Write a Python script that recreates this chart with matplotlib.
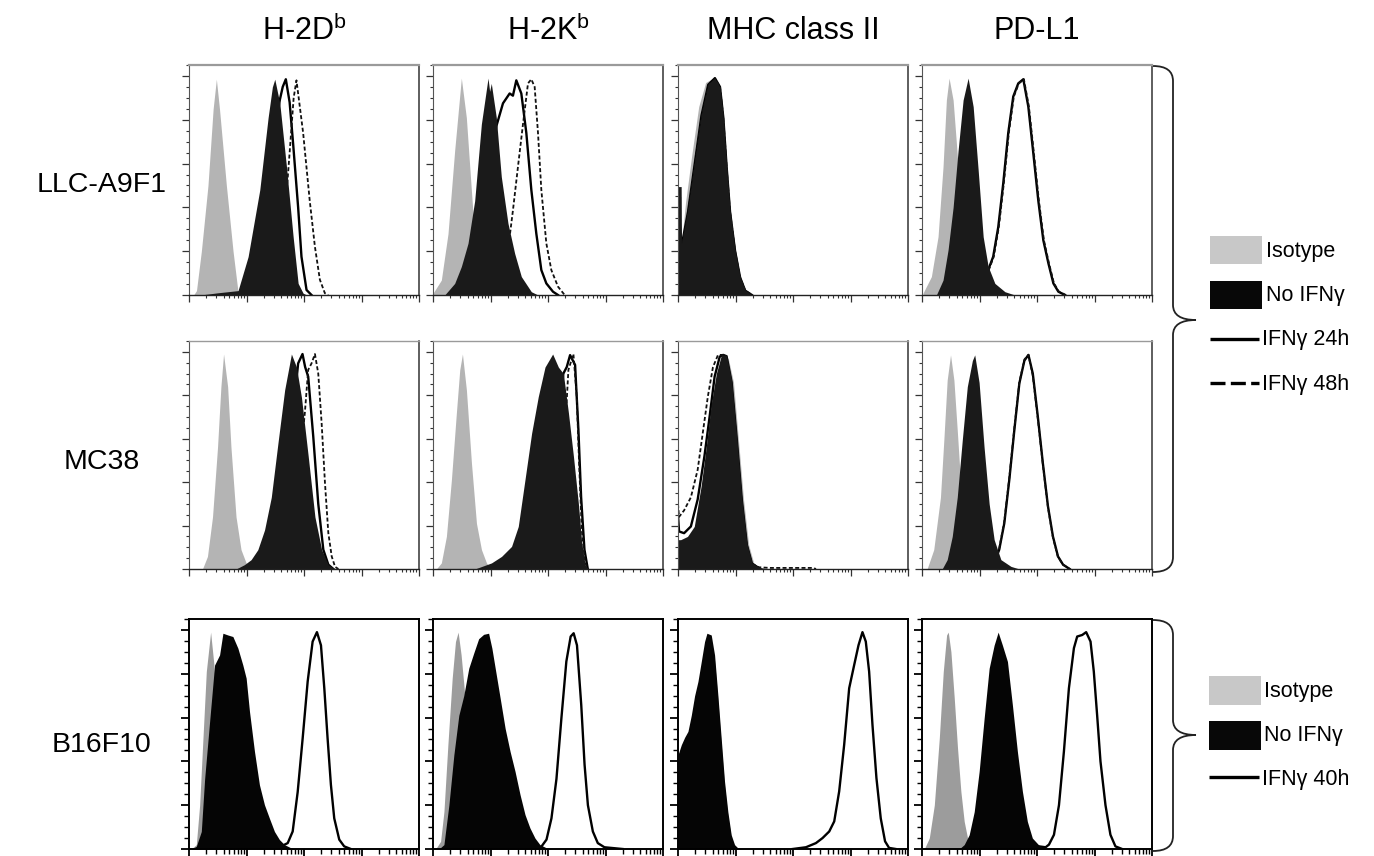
import numpy as np
import matplotlib
matplotlib.use("Agg")
import matplotlib.pyplot as plt
from matplotlib.path import Path
from matplotlib.patches import PathPatch, Rectangle
from matplotlib.ticker import LogLocator, MultipleLocator, NullFormatter

plt.rcParams['font.family'] = ['Liberation Sans', 'DejaVu Sans']
plt.rcParams['mathtext.fontset'] = 'custom'
plt.rcParams['mathtext.rm'] = 'Liberation Sans'
plt.rcParams['mathtext.it'] = 'Liberation Sans'

# ---------------- labels ----------------
col_titles = [r"H-2D$^{\mathrm{b}}$", r"H-2K$^{\mathrm{b}}$", "MHC class II", "PD-L1"]
row_labels = ["LLC-A9F1", "MC38", "B16F10"]
legend1_labels = ["Isotype", "No IFN\u03b3", "IFN\u03b3 24h", "IFN\u03b3 48h"]
legend2_labels = ["Isotype", "No IFN\u03b3", "IFN\u03b3 40h"]

# ---------------- data: x = log10 fluorescence, y = % of max ----------------
# LLC-A9F1 / H-2Db
llc_h2db_iso_x = [1.08, 1.13, 1.215, 1.33, 1.42, 1.476, 1.53, 1.65, 1.766, 1.85, 1.92]
llc_h2db_iso_y = [0, 2, 20, 50, 85, 98.5, 85, 50, 20, 2, 0]
llc_h2db_no_x = [1.20, 1.50, 1.853, 2.028, 2.231, 2.376, 2.45, 2.492, 2.579, 2.695, 2.811, 2.898, 2.985, 3.05]
llc_h2db_no_y = [0, 1, 2, 17.5, 48, 81, 95, 98.5, 87.5, 58.6, 26.6, 5.3, 0.8, 0]
llc_h2db_24_x = [2.05, 2.173, 2.405, 2.579, 2.63, 2.684, 2.75, 2.811, 2.898, 2.956, 3.044, 3.131]
llc_h2db_24_y = [0, 20.5, 58.6, 89, 95, 98.5, 88, 69, 40, 17.5, 2.3, 0]
llc_h2db_48_x = [2.35, 2.55, 2.695, 2.753, 2.82, 2.869, 2.985, 3.10, 3.19, 3.276, 3.363, 3.42]
llc_h2db_48_y = [0, 15, 46, 66, 90, 98, 74, 43, 22, 7, 0.8, 0]

# LLC-A9F1 / H-2Kb
llc_h2kb_iso_x = [1.0, 1.145, 1.261, 1.377, 1.493, 1.58, 1.667, 1.725, 1.812, 1.899]
llc_h2kb_iso_y = [0.8, 6.8, 28, 66, 99, 81, 48, 26.6, 7, 0]
llc_h2kb_no_x = [1.203, 1.377, 1.493, 1.609, 1.725, 1.841, 1.957, 1.985, 2.014, 2.101, 2.188, 2.304, 2.42, 2.536, 2.71, 2.826]
llc_h2kb_no_y = [0, 5.3, 13, 23.6, 43, 78, 99, 93, 96.6, 81, 54, 32.7, 19, 8.4, 1.5, 0]
llc_h2kb_24_x = [1.725, 1.899, 2.101, 2.217, 2.333, 2.39, 2.449, 2.536, 2.623, 2.71, 2.797, 2.884, 2.971, 3.087, 3.174]
llc_h2kb_24_y = [10, 35, 77, 87.5, 92, 91, 98, 92, 74, 48, 28, 11.4, 5.3, 1.5, 0]
llc_h2kb_48_x = [2.0, 2.17, 2.304, 2.391, 2.478, 2.565, 2.652, 2.71, 2.768, 2.826, 2.884, 2.971, 3.058, 3.174, 3.29]
llc_h2kb_48_y = [1, 8, 20.5, 38.8, 58.6, 78, 96.6, 98.5, 95, 74, 48, 23.6, 11.4, 3.8, 0]

# LLC-A9F1 / MHC class II
llc_mhc_iso_x = [1.0, 1.05, 1.055, 1.13, 1.24, 1.36, 1.48, 1.61, 1.71, 1.78, 1.84, 1.90, 1.98, 2.07, 2.16, 2.27]
llc_mhc_iso_y = [45, 45, 22, 42, 64, 86, 97, 99, 94, 80, 57, 37, 19, 8, 2, 0]
llc_mhc_no_x = [1.0, 1.055, 1.06, 1.175, 1.292, 1.409, 1.526, 1.642, 1.73, 1.788, 1.847, 1.905, 1.993, 2.08, 2.168, 2.285]
llc_mhc_no_y = [49.5, 49.5, 23.6, 40, 61.6, 83, 96.6, 99, 95, 81, 58.6, 38.8, 20.5, 8.4, 2.3, 0]
llc_mhc_24_x = [1.0, 1.06, 1.175, 1.292, 1.409, 1.526, 1.642, 1.73, 1.788, 1.847, 1.905, 1.993, 2.08, 2.168, 2.285]
llc_mhc_24_y = [45, 22, 38, 60, 82, 96, 99, 95, 81, 58, 38, 20, 8, 2, 0]
llc_mhc_48_x = [1.0, 1.06, 1.175, 1.292, 1.409, 1.526, 1.642, 1.73, 1.788, 1.847, 1.905, 1.993, 2.08, 2.168, 2.285]
llc_mhc_48_y = [44, 21, 37, 59, 81, 95, 98.5, 95, 81, 58, 38, 20, 8, 2, 0]

# LLC-A9F1 / PD-L1
llc_pdl1_iso_x = [1.017, 1.163, 1.279, 1.366, 1.424, 1.471, 1.541, 1.599, 1.657, 1.715, 1.802, 1.89]
llc_pdl1_iso_y = [0.8, 8.4, 26.6, 58.6, 89, 99, 89, 69, 48, 26.6, 8.4, 0.8]
llc_pdl1_no_x = [1.25, 1.366, 1.453, 1.541, 1.628, 1.715, 1.802, 1.89, 1.977, 2.064, 2.151, 2.267, 2.442, 2.616]
llc_pdl1_no_y = [0, 6.8, 20.5, 40, 66, 89, 99, 86, 57, 26.6, 13, 5.3, 1.5, 0]
llc_pdl1_24_x = [1.977, 2.093, 2.151, 2.238, 2.326, 2.413, 2.5, 2.587, 2.674, 2.762, 2.849, 2.936, 3.023, 3.11, 3.198, 3.285, 3.372, 3.488]
llc_pdl1_24_y = [3.8, 8.4, 11.4, 17.5, 31, 51, 74, 90.6, 96.6, 98.5, 86, 64.7, 43, 25, 14.5, 5.3, 1.5, 0]
llc_pdl1_48_x = [1.987, 2.103, 2.161, 2.248, 2.336, 2.423, 2.51, 2.597, 2.684, 2.772, 2.859, 2.946, 3.033, 3.12, 3.208, 3.295, 3.382, 3.498]
llc_pdl1_48_y = [3.8, 8.4, 11.4, 17.5, 31, 51, 74, 90.6, 96.6, 98.5, 86, 64.7, 43, 25, 14.5, 5.3, 1.5, 0]

# MC38 / H-2Db
mc_h2db_iso_x = [1.234, 1.321, 1.409, 1.496, 1.555, 1.601, 1.672, 1.73, 1.818, 1.905, 1.993, 2.08]
mc_h2db_iso_y = [0, 5.8, 24, 56, 84, 99, 84, 56, 24, 8.9, 2.8, 0]
mc_h2db_no_x = [1.818, 1.964, 2.08, 2.197, 2.314, 2.431, 2.547, 2.664, 2.781, 2.869, 2.956, 3.073, 3.19, 3.307, 3.423, 3.54]
mc_h2db_no_y = [0, 2, 4.3, 8.9, 18, 33, 58, 82.5, 99, 93, 79, 52, 24, 8.9, 2, 0]
mc_h2db_24_x = [2.4, 2.518, 2.693, 2.839, 2.898, 2.974, 3.02, 3.073, 3.161, 3.248, 3.336, 3.423, 3.511]
mc_h2db_24_y = [5, 18, 48, 79, 94.7, 99, 93, 88.6, 61, 30, 8.9, 2, 0]
mc_h2db_48_x = [2.5, 2.693, 2.869, 3.015, 3.073, 3.131, 3.19, 3.248, 3.307, 3.365, 3.423, 3.482, 3.54, 3.599]
mc_h2db_48_y = [3, 10, 33, 72, 91.7, 94.7, 99, 90, 67, 39.5, 16.6, 5.8, 1, 0]

# MC38 / H-2Kb
mc_h2kb_iso_x = [1.058, 1.145, 1.233, 1.32, 1.407, 1.465, 1.512, 1.581, 1.669, 1.756, 1.843, 1.93, 2.017]
mc_h2kb_iso_y = [0, 2.8, 15, 41, 72, 91.7, 99, 82.5, 48.7, 21, 8.9, 2.8, 0]
mc_h2kb_no_x = [1.727, 2.017, 2.192, 2.366, 2.483, 2.599, 2.715, 2.831, 2.948, 3.081, 3.18, 3.267, 3.355, 3.442, 3.529, 3.587, 3.645, 3.703]
mc_h2kb_no_y = [0, 2.8, 5.8, 10.4, 19.6, 41, 62.5, 79.4, 93, 99, 93, 90, 72, 52, 30, 12, 2, 0]
mc_h2kb_24_x = [2.89, 3.064, 3.18, 3.267, 3.326, 3.384, 3.471, 3.529, 3.576, 3.634, 3.692]
mc_h2kb_24_y = [10, 33, 64, 90, 93, 98.5, 94, 64, 33, 8.9, 0]
mc_h2kb_48_x = [3.006, 3.18, 3.297, 3.355, 3.442, 3.5, 3.541, 3.587, 3.645, 3.703]
mc_h2kb_48_y = [10, 33, 64, 91.7, 99, 79.4, 48.7, 18, 2.8, 0]

# MC38 / MHC class II
mc_mhc_iso_x = [1.03, 1.1, 1.2, 1.31, 1.43, 1.52, 1.61, 1.70, 1.785, 1.875, 1.965, 2.05, 2.14, 2.23, 2.32, 2.45]
mc_mhc_iso_y = [10, 12, 14, 19, 37, 55, 75, 89, 98, 97, 86, 60, 32, 11, 2.5, 0]
mc_mhc_no_x = [1.0, 1.004, 1.047, 1.165, 1.283, 1.401, 1.49, 1.578, 1.667, 1.755, 1.844, 1.932, 2.021, 2.109, 2.198, 2.286, 2.404, 2.55]
mc_mhc_no_y = [33, 13.5, 13.5, 15, 19.6, 38, 56, 76, 90, 98.6, 98.6, 87, 61, 33, 12, 2.8, 0.9, 0]
mc_mhc_24_x = [1.0, 1.018, 1.106, 1.224, 1.342, 1.46, 1.549, 1.637, 1.726, 1.785, 1.844, 1.932, 2.021, 2.109, 2.198, 2.286, 2.404]
mc_mhc_24_y = [25, 17.3, 16.5, 19.6, 32, 52, 70, 88.6, 97.8, 98.6, 98, 86, 60, 32, 11, 2.5, 0.5]
mc_mhc_48_x = [1.0, 1.018, 1.106, 1.224, 1.342, 1.43, 1.519, 1.608, 1.696, 1.785, 1.844, 1.932, 2.021, 2.109, 2.198, 2.286, 2.404, 2.6, 3.35, 3.4]
mc_mhc_48_y = [30, 24, 27, 33, 45.7, 62.5, 79.4, 93, 98.6, 98.6, 96, 84, 58, 30, 10, 2.5, 0.8, 0.5, 0.5, 0]

# MC38 / PD-L1
mc_pdl1_iso_x = [1.088, 1.204, 1.321, 1.38, 1.438, 1.496, 1.555, 1.613, 1.672, 1.73, 1.818, 1.905]
mc_pdl1_iso_y = [0, 8.9, 33, 59.5, 87, 98.6, 87, 64, 39.5, 18, 4.3, 0]
mc_pdl1_no_x = [1.35, 1.438, 1.526, 1.613, 1.701, 1.788, 1.876, 1.917, 1.993, 2.08, 2.168, 2.255, 2.372, 2.547, 2.693]
mc_pdl1_no_y = [0, 4.3, 15, 33, 59.5, 84, 96, 98.6, 85.9, 56, 30, 13.5, 4.3, 1.2, 0]
mc_pdl1_24_x = [2.08, 2.255, 2.343, 2.431, 2.518, 2.606, 2.693, 2.781, 2.851, 2.927, 3.015, 3.102, 3.19, 3.277, 3.365, 3.453, 3.569]
mc_pdl1_24_y = [1, 2.8, 8.9, 21, 41, 64, 85.5, 96, 98.6, 90, 70, 48.7, 29, 15, 5.8, 2, 0]
mc_pdl1_48_x = [2.08, 2.255, 2.343, 2.431, 2.518, 2.606, 2.693, 2.781, 2.851, 2.927, 3.015, 3.102, 3.19, 3.277, 3.365, 3.453, 3.569]
mc_pdl1_48_y = [1, 3, 9.5, 22, 42, 65, 86, 96.5, 98.6, 89, 69, 48, 28.5, 14.5, 5.5, 2, 0]

# B16F10 / H-2Db
b16_h2db_iso_x = [1.04, 1.127, 1.185, 1.243, 1.301, 1.376, 1.434, 1.491, 1.561, 1.647, 1.75]
b16_h2db_iso_y = [0, 2, 20, 50.6, 81, 99, 84, 61, 35, 10, 0]
b16_h2db_no_x = [1.04, 1.127, 1.214, 1.272, 1.358, 1.445, 1.532, 1.59, 1.676, 1.763, 1.85, 1.936, 1.994, 2.052, 2.139, 2.225, 2.312, 2.399, 2.486, 2.572, 2.659, 2.775, 2.89]
b16_h2db_no_y = [0, 1.2, 8, 32, 58, 84, 88.6, 98.5, 97.7, 97, 91.7, 84, 78, 62.8, 44.5, 29.3, 20.2, 14, 8, 4.3, 2, 0.5, 0]
b16_h2db_40_x = [2.601, 2.717, 2.803, 2.89, 2.977, 3.064, 3.15, 3.225, 3.295, 3.353, 3.41, 3.468, 3.526, 3.613, 3.699, 3.815]
b16_h2db_40_y = [1.2, 2.7, 8, 26, 50.6, 76.5, 94.7, 99, 93, 73.4, 50.6, 29.3, 14, 4.3, 1.2, 0]

# B16F10 / H-2Kb
b16_h2kb_iso_x = [1.046, 1.132, 1.19, 1.259, 1.334, 1.391, 1.437, 1.489, 1.547, 1.622, 1.72]
b16_h2kb_iso_y = [0, 3.5, 17, 47.6, 78, 94.7, 99, 88.6, 72, 45, 10]
b16_h2kb_no_x = [1.104, 1.19, 1.276, 1.363, 1.449, 1.535, 1.622, 1.708, 1.794, 1.881, 1.967, 2.024, 2.082, 2.168, 2.255, 2.341, 2.427, 2.514, 2.6, 2.686, 2.773, 2.859, 2.974, 3.089]
b16_h2kb_no_y = [0, 2, 20, 43, 61, 70, 82.5, 89.4, 96, 98, 98.5, 91.7, 82.5, 68.9, 55, 44.5, 35.4, 24.8, 15.7, 9.6, 5, 2, 0.5, 0]
b16_h2kb_40_x = [2.888, 2.974, 3.06, 3.147, 3.233, 3.319, 3.394, 3.446, 3.504, 3.578, 3.636, 3.694, 3.78, 3.866, 3.981, 4.298]
b16_h2kb_40_y = [1.2, 4.3, 14, 32, 59.7, 85.6, 97, 98.5, 93, 65.8, 38.5, 20, 8, 2.7, 0.8, 0]

# B16F10 / MHC class II
b16_mhc_iso_x = [1.0, 1.058, 1.116, 1.173, 1.231, 1.289, 1.347, 1.405, 1.462, 1.503, 1.578, 1.636, 1.694, 1.751, 1.809, 1.867, 1.925, 1.983, 2.04]
b16_mhc_iso_y = [40, 45, 48, 51, 58, 67, 74, 83, 92, 96, 95, 86, 68, 48, 29, 15, 5.5, 1.5, 0]
b16_mhc_no_x = [1.0, 1.058, 1.116, 1.173, 1.231, 1.289, 1.347, 1.405, 1.462, 1.503, 1.578, 1.636, 1.694, 1.751, 1.809, 1.867, 1.925, 1.983, 2.04, 2.127]
b16_mhc_no_y = [43, 47.6, 51, 53.7, 61, 70, 76.5, 85.6, 94.7, 98.5, 97.7, 88.6, 70, 50.6, 30.9, 17, 6.5, 2, 0.5, 0]
b16_mhc_40_x = [2.994, 3.225, 3.399, 3.514, 3.63, 3.717, 3.803, 3.89, 3.977, 4.064, 4.139, 4.208, 4.266, 4.324, 4.382, 4.451, 4.526, 4.601, 4.671, 4.786]
b16_mhc_40_y = [0, 0.8, 2.7, 5, 8, 12.6, 26.3, 47.6, 73.4, 84, 93, 99, 94.7, 81, 56.7, 32.4, 14, 3.5, 0.5, 0]

# B16F10 / PD-L1
b16_pdl1_iso_x = [1.04, 1.127, 1.214, 1.301, 1.37, 1.428, 1.457, 1.503, 1.561, 1.618, 1.676, 1.734, 1.792, 1.879, 1.994]
b16_pdl1_iso_y = [0, 5, 20, 50.6, 81, 97.7, 99, 90, 68.9, 46, 26.3, 12.6, 5, 1.2, 0]
b16_pdl1_no_x = [1.647, 1.734, 1.821, 1.908, 1.994, 2.081, 2.168, 2.254, 2.324, 2.399, 2.486, 2.572, 2.659, 2.746, 2.832, 2.919, 3.035, 3.15]
b16_pdl1_no_y = [0, 2, 6.5, 17, 35.4, 59.7, 82.5, 93, 99, 93, 85.6, 65.8, 44.5, 26.3, 12.6, 5, 1.7, 0]
b16_pdl1_40_x = [3.035, 3.15, 3.208, 3.295, 3.382, 3.468, 3.555, 3.642, 3.699, 3.786, 3.855, 3.931, 3.988, 4.046, 4.104, 4.191, 4.277, 4.364, 4.48]
b16_pdl1_40_y = [1.2, 0.8, 2, 6.5, 20, 44.5, 73.4, 91.7, 97, 97.7, 99, 94.7, 81, 61, 40, 20, 6.5, 1.2, 0]

# ---------------- assemble panel table ----------------
panels = [
    [dict(iso=(llc_h2db_iso_x, llc_h2db_iso_y), no=(llc_h2db_no_x, llc_h2db_no_y),
          solid=(llc_h2db_24_x, llc_h2db_24_y), dashed=(llc_h2db_48_x, llc_h2db_48_y)),
     dict(iso=(llc_h2kb_iso_x, llc_h2kb_iso_y), no=(llc_h2kb_no_x, llc_h2kb_no_y),
          solid=(llc_h2kb_24_x, llc_h2kb_24_y), dashed=(llc_h2kb_48_x, llc_h2kb_48_y)),
     dict(iso=(llc_mhc_iso_x, llc_mhc_iso_y), no=(llc_mhc_no_x, llc_mhc_no_y),
          solid=(llc_mhc_24_x, llc_mhc_24_y), dashed=(llc_mhc_48_x, llc_mhc_48_y)),
     dict(iso=(llc_pdl1_iso_x, llc_pdl1_iso_y), no=(llc_pdl1_no_x, llc_pdl1_no_y),
          solid=(llc_pdl1_24_x, llc_pdl1_24_y), dashed=(llc_pdl1_48_x, llc_pdl1_48_y))],
    [dict(iso=(mc_h2db_iso_x, mc_h2db_iso_y), no=(mc_h2db_no_x, mc_h2db_no_y),
          solid=(mc_h2db_24_x, mc_h2db_24_y), dashed=(mc_h2db_48_x, mc_h2db_48_y)),
     dict(iso=(mc_h2kb_iso_x, mc_h2kb_iso_y), no=(mc_h2kb_no_x, mc_h2kb_no_y),
          solid=(mc_h2kb_24_x, mc_h2kb_24_y), dashed=(mc_h2kb_48_x, mc_h2kb_48_y)),
     dict(iso=(mc_mhc_iso_x, mc_mhc_iso_y), no=(mc_mhc_no_x, mc_mhc_no_y),
          solid=(mc_mhc_24_x, mc_mhc_24_y), dashed=(mc_mhc_48_x, mc_mhc_48_y)),
     dict(iso=(mc_pdl1_iso_x, mc_pdl1_iso_y), no=(mc_pdl1_no_x, mc_pdl1_no_y),
          solid=(mc_pdl1_24_x, mc_pdl1_24_y), dashed=(mc_pdl1_48_x, mc_pdl1_48_y))],
    [dict(iso=(b16_h2db_iso_x, b16_h2db_iso_y), no=(b16_h2db_no_x, b16_h2db_no_y),
          solid=(b16_h2db_40_x, b16_h2db_40_y), dashed=None),
     dict(iso=(b16_h2kb_iso_x, b16_h2kb_iso_y), no=(b16_h2kb_no_x, b16_h2kb_no_y),
          solid=(b16_h2kb_40_x, b16_h2kb_40_y), dashed=None),
     dict(iso=(b16_mhc_iso_x, b16_mhc_iso_y), no=(b16_mhc_no_x, b16_mhc_no_y),
          solid=(b16_mhc_40_x, b16_mhc_40_y), dashed=None),
     dict(iso=(b16_pdl1_iso_x, b16_pdl1_iso_y), no=(b16_pdl1_no_x, b16_pdl1_no_y),
          solid=(b16_pdl1_40_x, b16_pdl1_40_y), dashed=None)],
]

# ---------------- figure ----------------
W, H = 1374, 856
fig = plt.figure(figsize=(W / 100, H / 100), dpi=100)
fig.patch.set_facecolor('white')

ov = fig.add_axes([0, 0, 1, 1])
ov.set_xlim(0, W)
ov.set_ylim(H, 0)
ov.axis('off')

col_left = [189, 433, 678, 922]
pw = 230
row_top = [65, 341, 619]
row_bot = [295, 569, 849]

for r in range(3):
    for c in range(4):
        p = panels[r][c]
        ax = fig.add_axes([col_left[c] / W, 1 - row_bot[r] / H, pw / W, (row_bot[r] - row_top[r]) / H])
        ax.set_xscale('log')
        ax.set_xlim(1e1, 1e5)
        ax.set_ylim(0, 105)
        if r < 2:
            iso_col, blk = '#b4b4b4', '#1a1a1a'
        else:
            iso_col, blk = '#9c9c9c', '#050505'
        ix, iy = p['iso']
        ax.fill_between(10 ** np.array(ix), iy, 0, color=iso_col, lw=0, zorder=1)
        sx, sy = p['solid']
        ax.plot(10 ** np.array(sx), sy, color='black', lw=1.7, zorder=2, solid_joinstyle='round')
        if p['dashed'] is not None:
            dx, dy = p['dashed']
            ax.plot(10 ** np.array(dx), dy, color='#111111', lw=1.3, ls=(0, (2.2, 1.3)), zorder=2.2)
        nx, ny = p['no']
        ax.fill_between(10 ** np.array(nx), ny, 0, color=blk, lw=0, zorder=2.4)

        ax.xaxis.set_major_locator(LogLocator(base=10, numticks=10))
        ax.xaxis.set_minor_locator(LogLocator(base=10, subs=np.arange(2, 10), numticks=20))
        ax.xaxis.set_major_formatter(NullFormatter())
        ax.xaxis.set_minor_formatter(NullFormatter())
        ax.yaxis.set_major_locator(MultipleLocator(20))
        ax.yaxis.set_minor_locator(MultipleLocator(5))
        ax.yaxis.set_major_formatter(NullFormatter())
        ax.set_ylim(0, 105)
        if r < 2:
            tcol = '#333333'
            ax.tick_params(axis='both', which='major', direction='out', length=5, width=0.9, color=tcol)
            ax.tick_params(axis='both', which='minor', direction='out', length=2.5, width=0.8, color=tcol)
            ax.spines['top'].set_color('#9a9a9a')
            ax.spines['top'].set_linewidth(1.6 if r == 0 else 1.0)
            ax.spines['left'].set_color('#555555')
            ax.spines['left'].set_linewidth(0.8)
            ax.spines['right'].set_color('#333333')
            ax.spines['right'].set_linewidth(1.1)
            ax.spines['bottom'].set_color('#222222')
            ax.spines['bottom'].set_linewidth(1.0)
        else:
            ax.tick_params(axis='both', which='major', direction='out', length=6, width=1.3, color='black')
            ax.tick_params(axis='both', which='minor', direction='out', length=3.5, width=1.0, color='black')
            for s in ax.spines.values():
                s.set_color('black')
                s.set_linewidth(1.4)
        for s in ax.spines.values():
            s.set_zorder(5)

# ---------------- titles ----------------
col_centers = [l + pw / 2 for l in col_left]
for c, t in enumerate(col_titles):
    ov.text(col_centers[c], 31, t, ha='center', va='center', fontsize=22)

row_label_y = [185, 462, 745]
for r, t in enumerate(row_labels):
    ov.text(102, row_label_y[r], t, ha='center', va='center', fontsize=20.5)

# ---------------- braces ----------------
def brace(x0, x1, xc, y0, y1, ym, rr=15):
    verts = [(x0, y0), (x1, y0), (x1, y0 + rr),
             (x1, ym - rr), (x1, ym), (xc, ym),
             (x1, ym), (x1, ym + rr),
             (x1, y1 - rr), (x1, y1), (x0, y1)]
    codes = [Path.MOVETO, Path.CURVE3, Path.CURVE3,
             Path.LINETO, Path.CURVE3, Path.CURVE3,
             Path.CURVE3, Path.CURVE3,
             Path.LINETO, Path.CURVE3, Path.CURVE3]
    ov.add_patch(PathPatch(Path(verts, codes), fill=False, lw=1.3, color='#222222'))

brace(1153, 1173, 1196, 66, 572, 320)
brace(1153, 1173, 1196, 620, 851, 735)

# ---------------- legends ----------------
lfs = 15.5
# legend 1
ov.add_patch(Rectangle((1210, 236), 52, 28, color='#c8c8c8', lw=0))
ov.text(1266, 251, legend1_labels[0], ha='left', va='center', fontsize=lfs)
ov.add_patch(Rectangle((1210, 281), 52, 28, color='#080808', lw=0))
ov.text(1266, 296, legend1_labels[1], ha='left', va='center', fontsize=lfs)
ov.plot([1210, 1259], [339, 339], color='black', lw=2.4, solid_capstyle='butt')
ov.text(1262, 340, legend1_labels[2], ha='left', va='center', fontsize=lfs)
ov.plot([1210, 1259], [383, 383], color='black', lw=2.4, ls=(0, (4.5, 1.6)), solid_capstyle='butt')
ov.text(1262, 384, legend1_labels[3], ha='left', va='center', fontsize=lfs)

# legend 2
ov.add_patch(Rectangle((1209, 676), 52, 29, color='#c8c8c8', lw=0))
ov.text(1264, 691, legend2_labels[0], ha='left', va='center', fontsize=lfs)
ov.add_patch(Rectangle((1209, 721), 52, 29, color='#080808', lw=0))
ov.text(1264, 736, legend2_labels[1], ha='left', va='center', fontsize=lfs)
ov.plot([1209, 1259], [777, 777], color='black', lw=2.4, solid_capstyle='butt')
ov.text(1262, 779, legend2_labels[2], ha='left', va='center', fontsize=lfs)

fig.savefig('out.png', dpi=100, facecolor='white')
